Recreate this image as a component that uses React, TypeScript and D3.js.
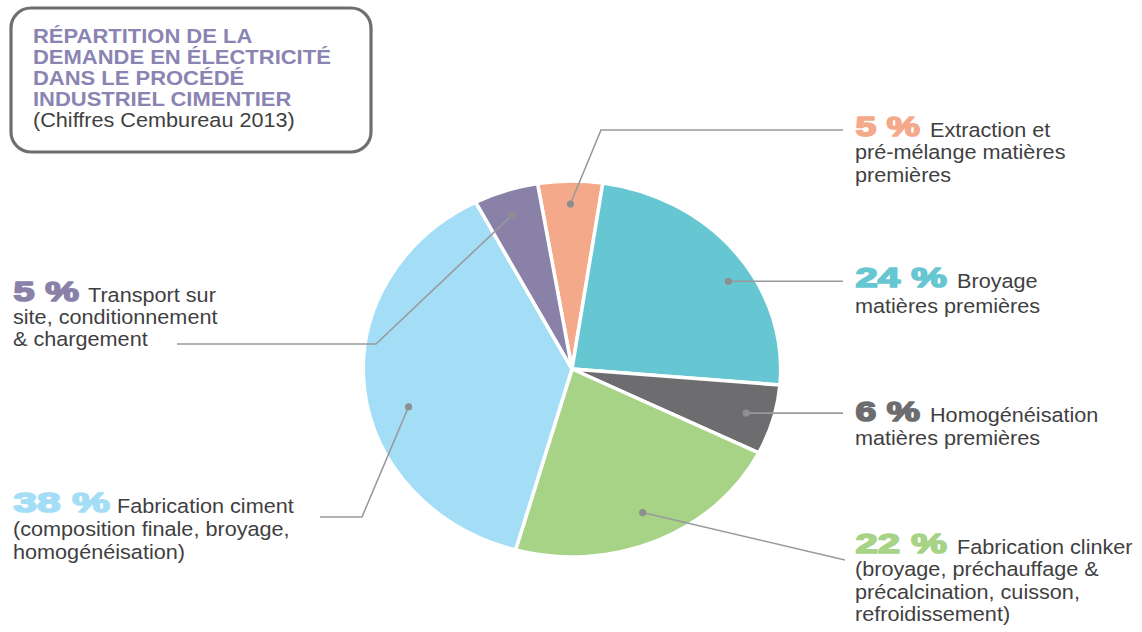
import React from "react";
import * as d3 from "d3";

// ---------- data ----------
const categories = [
  "Extraction et pré-mélange matières premières",
  "Broyage matières premières",
  "Homogénéisation matières premières",
  "Fabrication clinker",
  "Fabrication ciment",
  "Transport sur site, conditionnement & chargement",
];
const values = [5, 24, 6, 22, 38, 5];
const percentLabels = ["5 %", "24 %", "6 %", "22 %", "38 %", "5 %"];
const labelLines = [
  ["Extraction et", "pré-mélange matières", "premières"],
  ["Broyage", "matières premières"],
  ["Homogénéisation", "matières premières"],
  ["Fabrication clinker", "(broyage, préchauffage &", "précalcination, cuisson,", "refroidissement)"],
  ["Fabrication ciment", "(composition finale, broyage,", "homogénéisation)"],
  ["Transport sur", "site, conditionnement", "& chargement"],
];
const colors = ["#F5A98B", "#66C7D2", "#6D6D6F", "#A6D386", "#A3DDF6", "#8A81A8"];
const titleLines = ["RÉPARTITION DE LA", "DEMANDE EN ÉLECTRICITÉ", "DANS LE PROCÉDÉ", "INDUSTRIEL CIMENTIER"];
const subtitle = "(Chiffres Cembureau 2013)";

// ---------- layout (original pixel space) ----------
const W = 1142;
const H = 632;
const SX = 1.11; // horizontal stretch of the reference
const CX = 572;
const CY = 369;
const R = 188;
const START = (-9.5 * Math.PI) / 180;

type Layout = {
  x: number; y: number; numW: number; textX: number; gap: number;
  dotT: number; dotR: number; elbow: [number, number] | null; end: [number, number | null];
};
const layouts: Layout[] = [
  { x: 855, y: 137, numW: 66, textX: 930, gap: 22.5, dotT: 0.5, dotR: 165, elbow: [601, 130], end: [843, 130] },
  { x: 855, y: 288, numW: 93, textX: 957, gap: 25, dotT: 0.574, dotR: 166, elbow: null, end: [843, null] },
  { x: 855, y: 422, numW: 66, textX: 930, gap: 23.5, dotT: 0.5, dotR: 163, elbow: null, end: [843, null] },
  { x: 855, y: 554, numW: 93, textX: 957, gap: 22.3, dotT: 0.5, dotR: 157, elbow: null, end: [845, 560] },
  { x: 13, y: 513, numW: 98, textX: 117, gap: 23, dotT: 0.438, dotR: 152, elbow: [362, 517], end: [320, 517] },
  { x: 13, y: 302, numW: 67, textX: 88, gap: 22, dotT: 0.45, dotR: 163, elbow: [376, 344], end: [177, 344] },
];

const FONT = "'Liberation Sans', Arial, Helvetica, sans-serif";
const TEXT_COLOR = "#3f3f42";
const TITLE_COLOR = "#8A84B3";
const LEADER = "#9a9a9c";

const ix = (x: number) => x / SX; // to inner (unstretched) coordinates

export default function App() {
  const pie = d3
    .pie<number>()
    .sort(null)
    .value((d) => d)
    .startAngle(START)
    .endAngle(START + 2 * Math.PI);
  const arcs = pie(values);
  const arcGen = d3.arc<d3.PieArcDatum<number>>().innerRadius(0).outerRadius(R);
  const cxi = ix(CX);

  return (
    <svg
      width={W}
      height={H}
      viewBox={`0 0 ${W} ${H}`}
      style={{ position: "absolute", left: 0, top: 0, background: "#fff" }}
    >
      <rect width={W} height={H} fill="#fff" />
      <g transform={`scale(${SX},1)`}>
        {/* title box */}
        <rect
          x={ix(11)}
          y={8}
          width={ix(371) - ix(11)}
          height={144}
          rx={ix(20)}
          ry={20}
          fill="none"
          stroke="#6f6f71"
          strokeWidth={3.2}
          vectorEffect="non-scaling-stroke"
        />
        {titleLines.map((t, i) => (
          <text
            key={t}
            x={ix(33)}
            y={43 + i * 21}
            fontFamily={FONT}
            fontWeight="bold"
            fontSize={19.8}
            fill={TITLE_COLOR}
          >
            {t}
          </text>
        ))}
        <text x={ix(33)} y={127} fontFamily={FONT} fontSize={19.5} fill={TEXT_COLOR}>
          {subtitle}
        </text>

        {/* pie */}
        <g transform={`translate(${cxi},${CY})`}>
          {arcs.map((a, i) => (
            <path
              key={categories[i]}
              d={arcGen(a) || ""}
              fill={colors[i]}
              stroke="#fff"
              strokeWidth={3.5}
              strokeLinejoin="round"
              vectorEffect="non-scaling-stroke"
            />
          ))}
        </g>

        {/* leaders */}
        {arcs.map((a, i) => {
          const L = layouts[i];
          const ang = a.startAngle + L.dotT * (a.endAngle - a.startAngle);
          const dx = cxi + L.dotR * Math.sin(ang);
          const dy = CY - L.dotR * Math.cos(ang);
          const pts: [number, number][] = [[dx, dy]];
          if (L.elbow) pts.push([ix(L.elbow[0]), L.elbow[1]]);
          pts.push([ix(L.end[0]), L.end[1] == null ? dy : L.end[1]]);
          const line = d3.line()(pts) || "";
          return (
            <g key={"l" + i}>
              <path d={line} fill="none" stroke={LEADER} strokeWidth={1.6} vectorEffect="non-scaling-stroke" />
              <ellipse cx={dx} cy={dy} rx={3.6 / SX} ry={3.6} fill="#8e8e90" />
            </g>
          );
        })}

        {/* labels */}
        {labelLines.map((lines, i) => {
          const L = layouts[i];
          return (
            <g key={"t" + i}>
              <text
                x={ix(L.x) + 0.5}
                y={L.y - 0.6}
                fontFamily={FONT}
                fontWeight="bold"
                fontSize={28.5}
                fill={colors[i]}
                stroke={colors[i]}
                strokeWidth={1.7}
                strokeLinejoin="round"
                textLength={L.numW / SX - 1.5}
                lengthAdjust="spacingAndGlyphs"
              >
                {percentLabels[i]}
              </text>
              {lines.map((ln, j) => (
                <text
                  key={ln}
                  x={j === 0 ? ix(L.textX) : ix(L.x)}
                  y={L.y + j * L.gap}
                  fontFamily={FONT}
                  fontSize={19.5}
                  fill={TEXT_COLOR}
                >
                  {ln}
                </text>
              ))}
            </g>
          );
        })}
      </g>
    </svg>
  );
}
